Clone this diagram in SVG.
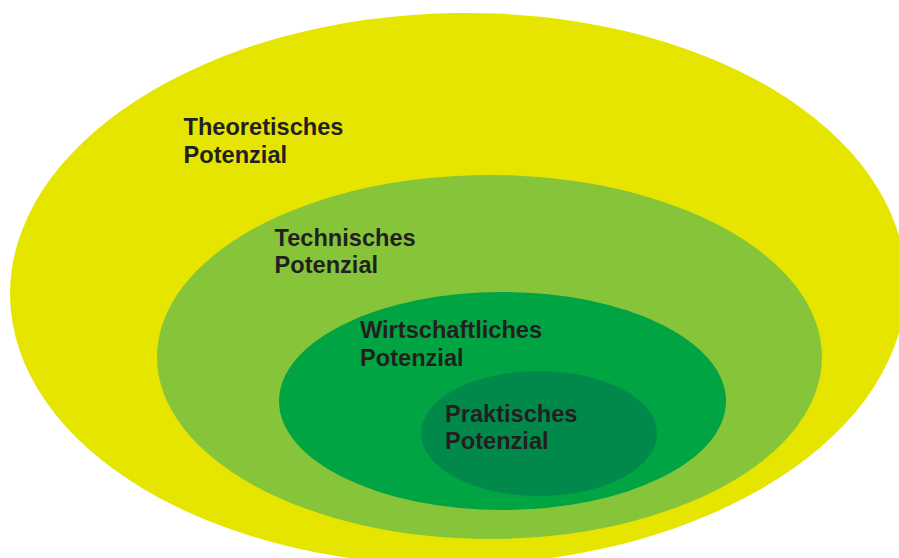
<svg xmlns="http://www.w3.org/2000/svg" width="899" height="558" viewBox="0 0 899 558">
  <style>
    .lbl { font-family: "Liberation Sans", Arial, Helvetica, sans-serif; font-weight: bold; font-size: 23.6px; fill: #231f20; }
  </style>
  <rect x="0" y="0" width="899" height="558" fill="#ffffff"/>
  <g id="theoretisch">
    <ellipse cx="458" cy="289" rx="448" ry="276" fill="#e6e500" transform="rotate(-1 458 289)"/>
    <text class="lbl" x="183.5" y="134.5">Theoretisches</text>
    <text class="lbl" x="183.5" y="162.5">Potenzial</text>
  </g>
  <g id="technisch">
    <ellipse cx="489.5" cy="357" rx="332.5" ry="182" fill="#86c53a"/>
    <text class="lbl" x="274.5" y="245.7">Technisches</text>
    <text class="lbl" x="274.5" y="272.7">Potenzial</text>
  </g>
  <g id="wirtschaftlich">
    <ellipse cx="502.5" cy="401" rx="223.5" ry="109" fill="#00a443"/>
    <text class="lbl" x="360" y="338.3">Wirtschaftliches</text>
    <text class="lbl" x="360" y="365.7">Potenzial</text>
  </g>
  <g id="praktisch">
    <ellipse cx="539" cy="433.5" rx="118" ry="62.5" fill="#00894a"/>
    <text class="lbl" x="445" y="421.7">Praktisches</text>
    <text class="lbl" x="445" y="449">Potenzial</text>
  </g>
  <g id="connectors"/>
</svg>
